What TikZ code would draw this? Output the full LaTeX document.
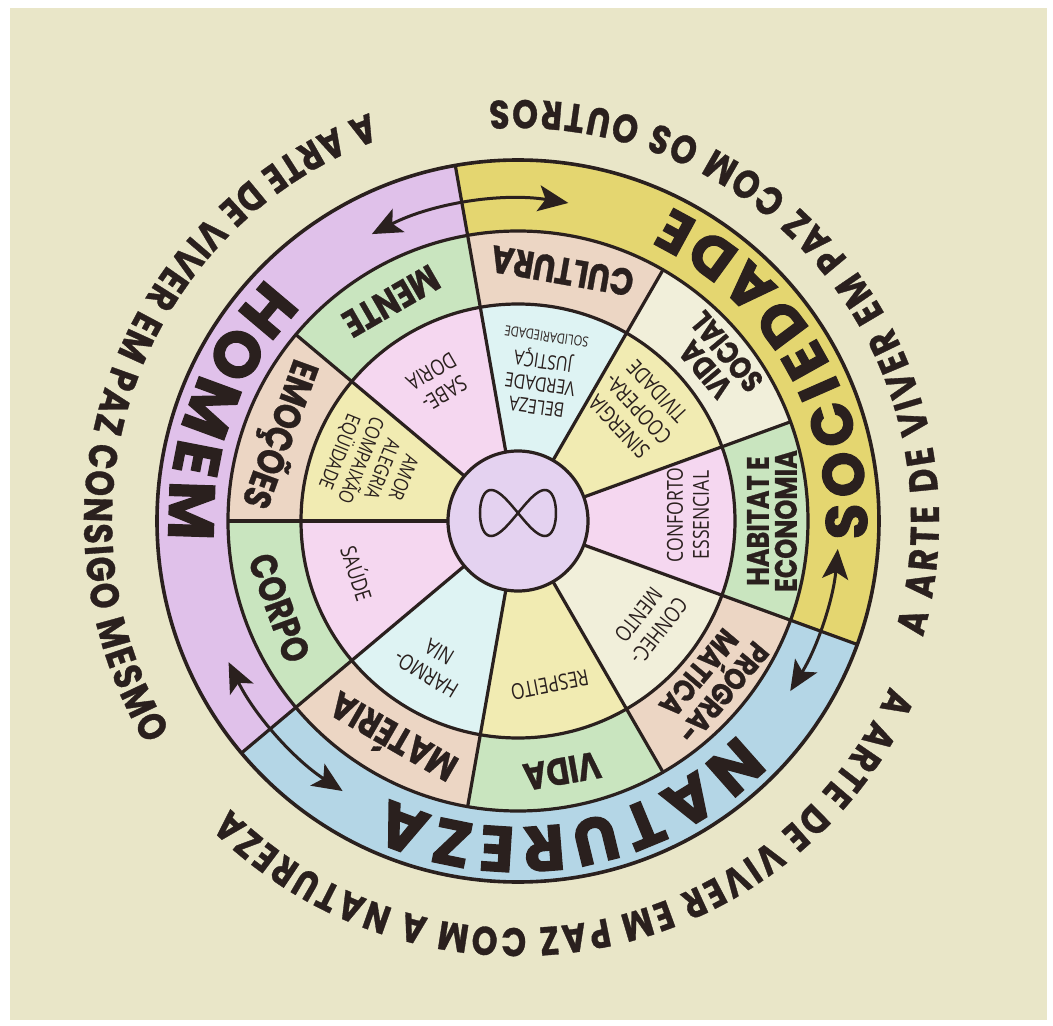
\documentclass[tikz,border=0pt]{standalone}
\usepackage{fontspec}
\setmainfont{Open Sans}[FakeStretch=0.8]
\newfontfamily\ringfont{Poppins}[FakeStretch=0.82, BoldFeatures={FakeBold=0.8}]
\newfontfamily\heavyfont{Poppins}[BoldFeatures={FakeBold=2}]
\usetikzlibrary{arrows.meta, decorations.text}
\definecolor{paper}{RGB}{233,230,200}
\definecolor{ink}{RGB}{42,32,30}
\definecolor{homem}{RGB}{224,193,234}
\definecolor{sociedade}{RGB}{228,214,112}
\definecolor{natureza}{RGB}{180,214,230}
\definecolor{verde}{RGB}{201,229,191}
\definecolor{pessego}{RGB}{236,214,196}
\definecolor{creme}{RGB}{241,239,218}
\definecolor{rosa}{RGB}{245,215,240}
\definecolor{amarelo}{RGB}{241,235,178}
\definecolor{ciano}{RGB}{222,243,243}
\definecolor{lilas}{RGB}{228,210,240}

\begin{document}
\begin{tikzpicture}[x=1pt, y=1pt,
    linha/.style={draw=ink, line width=3.2pt},
    inlab/.style={font=\fontsize{22}{26}\selectfont, align=center, text=ink, inner sep=0pt},
    midlab/.style={font=\ringfont\bfseries\fontsize{38}{34}\selectfont, align=center, text=ink, inner sep=0pt},
    midtwo/.style={font=\ringfont\bfseries\fontsize{31}{28}\selectfont, align=center, text=ink, inner sep=0pt},
    troca/.style={{Stealth[length=30pt, width=26pt, inset=7pt]}-{Stealth[length=30pt, width=26pt, inset=7pt]}, draw=ink, line width=3pt},
    anel/.style={decorate, decoration={text along path, text align=fit to path, text color=ink}}
  ]
  \fill[white] (-518,-505) rectangle (535,521);
  \fill[paper] (-508,-499) rectangle (529,513);

  % anel externo
  \foreach \a/\c in {-20/sociedade, 100/homem, 220/natureza}
    \fill[\c] (\a:290) arc[start angle=\a, end angle=\a+120, radius=290pt]
      -- (\a+120:361) arc[start angle=\a+120, end angle=\a, radius=361pt] -- cycle;
  % anel do meio
  \foreach \a/\c in {-20/verde, 20/creme, 60/pessego, 100/verde, 140/pessego,
                     180/verde, 220/pessego, 260/verde, 300/pessego}
    \fill[\c] (\a:217) arc[start angle=\a, end angle=\a+40, radius=217pt]
      -- (\a+40:290) arc[start angle=\a+40, end angle=\a, radius=290pt] -- cycle;
  % anel interno
  \foreach \a/\c in {-20/rosa, 20/amarelo, 60/ciano, 100/rosa, 140/amarelo,
                     180/rosa, 220/ciano, 260/amarelo, 300/creme}
    \fill[\c] (\a:70) arc[start angle=\a, end angle=\a+40, radius=70pt]
      -- (\a+40:217) arc[start angle=\a+40, end angle=\a, radius=217pt] -- cycle;

  \draw[troca] (117:322) arc[start angle=117, end angle=81, radius=322pt];
  \draw[troca] (-5:321) arc[start angle=-5, end angle=-32, radius=321pt];
  \draw[troca] (206:322) arc[start angle=206, end angle=237, radius=322pt];

  \foreach \a in {20,60,...,340}
    \draw[linha] (\a:70) -- (\a:290);
  \foreach \a in {100,220,340}
    \draw[linha] (\a:290) -- (\a:361);
  \draw[linha] (0,0) circle[radius=217pt] circle[radius=290pt];
  \draw[linha, line width=3.6pt] (0,0) circle[radius=361pt];
  \draw[linha, fill=lilas] (0,0) circle[radius=70pt];
  \coordinate (centro) at (0,0);
  \draw[ink, line width=2.5pt] plot[domain=0:360, samples=121, variable=\t]
    ({38*cos(\t)}, {8+23*sin(2*\t)});

  \node[inlab, rotate=90] (conforto) at (2:170) {CONFORTO\\ESSENCIAL};
  \node[inlab, rotate=133] (sinergia) at (43:164) {SINERGIA\\COOPERA-\\TIVIDADE};
  \node[inlab, font=\fontsize{20}{23}\selectfont, rotate=172] (beleza) at (81:150)
    {BELEZA\\VERDADE\\JUSTIÇA\\{\fontsize{14}{15}\selectfont SOLIDARIEDADE}};
  \node[inlab, rotate=210] (sabedoria) at (120:160) {SABE-\\DORIA};
  \node[inlab, font=\fontsize{20}{23}\selectfont, rotate=248] (amor) at (159:158)
    {AMOR\\ALEGRIA\\COMPAIXÃO\\EQÜIDADE};
  \node[inlab, rotate=288] (saude) at (198:168) {SAÚDE};
  \node[inlab, rotate=149] (harmonia) at (239:166) {HARMO-\\NIA};
  \node[inlab, rotate=191] (respeito) at (281:167) {RESPEITO};
  \node[inlab, rotate=232] (conhecimento) at (322:166) {CONHEC-\\MENTO};

  \node[midtwo, rotate=90] (habitat) at (0:254) {HABITAT E\\ECONOMIA};
  \node[midtwo, rotate=130] (vidasocial) at (39:255) {VIDA\\SOCIAL};
  \node[midlab, rotate=170] (cultura) at (80:254) {CULTURA};
  \node[midlab, rotate=210] (mente) at (120:254) {MENTE};
  \node[midlab, rotate=250] (emocoes) at (160:254) {EMOÇÕES};
  \node[midlab, rotate=290] (corpo) at (200:254) {CORPO};
  \node[midlab, rotate=150] (materia) at (240:254) {MATÉRIA};
  \node[midlab, rotate=190] (vida) at (280:254) {VIDA};
  \node[midtwo, rotate=230] (programatica) at (320:252) {PROGRA-\\MÁTICA};

  \path[anel, decoration={text={|\heavyfont\bfseries\fontsize{64}{64}\selectfont|HOMEM}}]
    (136:349) arc[start angle=136, end angle=183, radius=349pt];
  \path[anel, decoration={text={|\heavyfont\bfseries\fontsize{58}{58}\selectfont|SOCIEDADE}}]
    (-3:349) arc[start angle=-3, end angle=64, radius=349pt];
  \path[anel, decoration={text={|\heavyfont\bfseries\fontsize{64}{64}\selectfont|NATUREZA}}]
    (316:306) arc[start angle=316, end angle=245, radius=306pt];

  \path[anel, decoration={text={|\ringfont\bfseries\fontsize{40}{40}\selectfont|A ARTE DE VIVER EM PAZ CONSIGO MESMO}}]
    (110:434) arc[start angle=110, end angle=211, radius=434pt];
  \path[anel, decoration={text={|\ringfont\bfseries\fontsize{40}{40}\selectfont|A ARTE DE VIVER EM PAZ COM OS OUTROS}}]
    (-16:421) arc[start angle=-16, end angle=94, radius=421pt];
  \path[anel, decoration={text={|\ringfont\bfseries\fontsize{40}{40}\selectfont|A ARTE DE VIVER EM PAZ COM A NATUREZA}}]
    (336:407) arc[start angle=336, end angle=225, radius=407pt];
\end{tikzpicture}
\end{document}
